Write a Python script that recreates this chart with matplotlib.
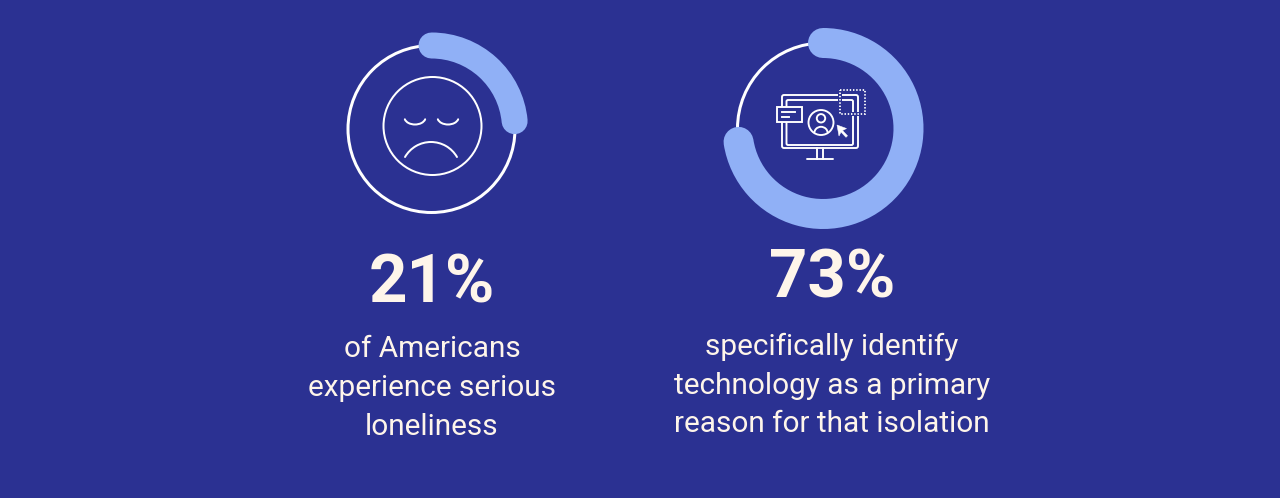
import matplotlib
matplotlib.use("Agg")
import matplotlib.pyplot as plt
from matplotlib import patches

# ---- data ----
percent_labels = ["21%", "73%"]
# arc extents as drawn in the picture (percent of a full turn, clockwise from 12 o'clock)
arc_percent = [23.5, 72.5]
captions = [
    ["of Americans", "experience serious", "loneliness"],
    ["specifically identify", "technology as a primary", "reason for that isolation"],
]

BG = "#2B3192"
ARC = "#90B0F6"
WHITE = "#FFFFFF"
CREAM = "#FEF5EA"

W, H = 1280, 498
fig = plt.figure(figsize=(W / 100, H / 100), dpi=100, facecolor=BG)
ax = fig.add_axes([0, 0, 1, 1])
ax.set_xlim(0, W)
ax.set_ylim(H, 0)
ax.set_aspect("equal")
ax.axis("off")
ax.set_facecolor(BG)

px = 72 / 100  # px -> pt

# ring layout
rings = [
    dict(cx=431.5, cy=129, r=83.5, bw=26),
    dict(cx=823, cy=128.5, r=85.5, bw=30),
]
text_cx = [432, 832]
pct_base = [302, 297]
cap_base = [[357, 396, 435], [355, 394, 432]]

for i, (val, ring) in enumerate(zip(arc_percent, rings)):
    cx, cy, r = ring["cx"], ring["cy"], ring["r"]
    ax.add_patch(patches.Circle((cx, cy), r, fill=False, ec=WHITE, lw=3 * px, zorder=2))
    ax.add_patch(patches.Arc((cx, cy), 2 * r, 2 * r, theta1=-90, theta2=-90 + 360 * val / 100,
                             ec=ARC, lw=ring["bw"] * px, capstyle="round", zorder=3))
    ax.text(text_cx[i], pct_base[i], percent_labels[i], ha="center", va="baseline",
            fontsize=67 * px, fontweight="bold", family="Roboto", color=CREAM)
    for line, yb in zip(captions[i], cap_base[i]):
        ax.text(text_cx[i], yb, line, ha="center", va="baseline",
                fontsize=29.7 * px, family="Roboto", color=CREAM)

# ---- sad face icon ----
lw_icon = 2.0 * px
ax.add_patch(patches.Circle((432.5, 126), 49, fill=False, ec=WHITE, lw=lw_icon, zorder=4))
for ex in (415, 448):
    ax.add_patch(patches.Arc((ex, 117.5), 21, 14, theta1=10, theta2=170, ec=WHITE, lw=lw_icon,
                             capstyle="round", zorder=4))
ax.add_patch(patches.Arc((431, 172), 60, 60, theta1=210, theta2=330, ec=WHITE, lw=lw_icon,
                         capstyle="round", zorder=4))

# ---- monitor icon ----
li = 1.9 * px
z = 4
ax.add_patch(patches.FancyBboxPatch((782, 95), 76, 53, boxstyle="round,pad=0,rounding_size=2",
                                    fill=False, ec=WHITE, lw=li, zorder=z))
ax.add_patch(patches.FancyBboxPatch((786.5, 100), 66.5, 45, boxstyle="round,pad=0,rounding_size=1.5",
                                    fill=False, ec=WHITE, lw=li, zorder=z))
# stand
ax.plot([817, 817], [148, 159], color=WHITE, lw=li, zorder=z)
ax.plot([823, 823], [148, 159], color=WHITE, lw=li, zorder=z)
ax.plot([807, 833], [159.3, 159.3], color=WHITE, lw=li, solid_capstyle="round", zorder=z)
# message box
ax.add_patch(patches.Rectangle((777, 107), 25, 15, fc=BG, ec=WHITE, lw=li, zorder=z + 1))
ax.plot([781.5, 795], [112.3, 112.3], color=WHITE, lw=li, zorder=z + 2)
ax.plot([781.5, 788.5], [116.8, 116.8], color=WHITE, lw=li, zorder=z + 2)
# person
ax.add_patch(patches.Circle((821, 122.5), 12.5, fill=False, ec=WHITE, lw=li, zorder=z))
ax.add_patch(patches.Circle((821, 118.3), 4.2, fill=False, ec=WHITE, lw=li, zorder=z))
ax.add_patch(patches.Arc((821, 133.3), 13.5, 13, theta1=180, theta2=360, ec=WHITE, lw=li, zorder=z))
# cursor
ax.add_patch(patches.Polygon([(837, 125), (846.5, 128.5), (842.5, 130.5), (847.5, 135.8),
                              (846, 137.3), (841, 132), (839, 136)], closed=True,
                             fc=WHITE, ec=WHITE, lw=0.5 * px, zorder=z))
# dotted selection square
ax.add_patch(patches.Rectangle((839.5, 89.5), 25.5, 24.5, fill=False, ec=BG, lw=4 * px, zorder=z + 1))
ax.add_patch(patches.Rectangle((839.5, 89.5), 25.5, 24.5, fill=False, ec=WHITE, lw=1.8 * px,
                               linestyle=(0, (0.8, 1.0)), zorder=z + 2))

fig.savefig("out.png", dpi=100, facecolor=BG)
